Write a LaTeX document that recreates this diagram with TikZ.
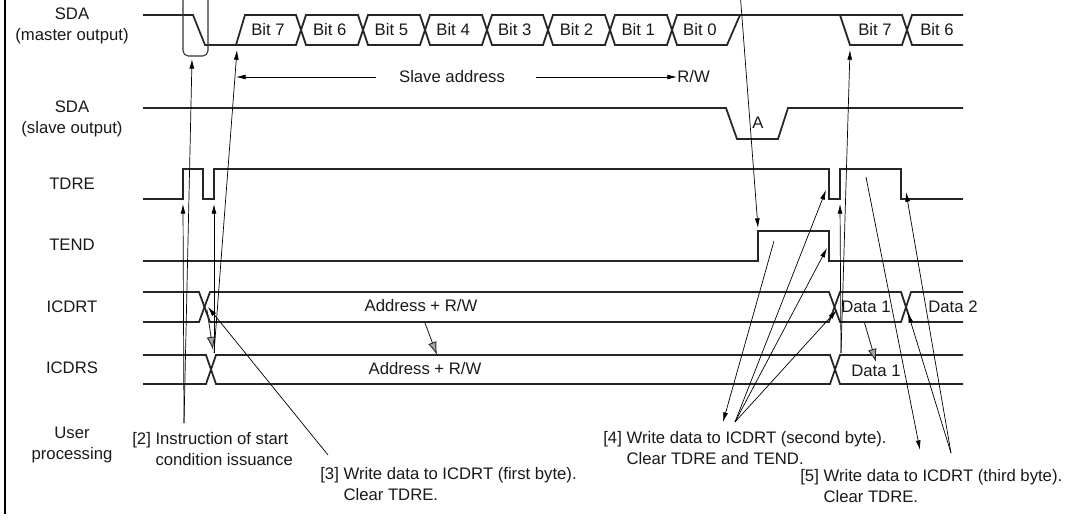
\documentclass[tikz,border=0pt]{standalone}
\usepackage{fontspec}
\setmainfont{Liberation Sans}
\usetikzlibrary{calc,arrows.meta}

\begin{document}
\begin{tikzpicture}[x=0.02cm, y=-0.02cm, font=\fontsize{9.5}{12}\selectfont]
    % styles
    \tikzstyle{wave}=[draw=black!85, line width=1pt, line join=miter]
    \tikzstyle{sig}=[align=center, inner sep=0pt, text=black!90]
    \tikzstyle{cell}=[inner sep=0pt, text=black!90]
    \tikzstyle{note}=[align=left, anchor=north west, inner sep=0pt, text=black!90]
    \tikzstyle{ptr}=[-{Latex[length=5.5pt,width=2.8pt]}, line width=0.4pt]
    \tikzstyle{xfer}=[-{Latex[length=7.5pt,width=5pt,fill=black!35]}, line width=0.5pt, draw=black!85]

    \useasboundingbox (0,0) rectangle (1066,522);

    % frame edge
    \draw[line width=1.6pt] (5,0) -- (5,514);

    % Signal names
    \node[sig] (sdam) at (72,25.5) {SDA\\(master output)};
    \node[sig] (sdas) at (72,119) {SDA\\(slave output)};
    \node[sig] (tdre) at (72,184) {TDRE};
    \node[sig] (tend) at (72,245) {TEND};
    \node[sig] (icdrt) at (72,307) {ICDRT};
    \node[sig] (icdrs) at (72,368) {ICDRS};
    \node[sig] (user) at (72,445) {User\\processing};

    % SDA (master output)
    \draw[wave] (143,15) -- (193,15) -- (205,45) -- (296,45) -- (306,15) -- (358,15) -- (368,45) -- (420,45) -- (430,15) -- (482,15) -- (492,45) -- (543,45) -- (553,15) -- (605,15) -- (615,45) -- (667,45) -- (677,15) -- (840,15) -- (850,45) -- (902,45) -- (912,15) -- (963,15);
    \draw[wave] (236,45) -- (245,15) -- (296,15) -- (306,45) -- (358,45) -- (368,15) -- (420,15) -- (430,45) -- (482,45) -- (492,15) -- (543,15) -- (553,45) -- (605,45) -- (615,15) -- (667,15) -- (677,45) -- (727,45) -- (740,15);
    \draw[wave] (840,15) -- (902,15) -- (912,45) -- (963,45);
    \foreach \b [count=\i from 0] in {7,6,5,4,3,2,1,0}
      \node[cell] (bit\b) at (268+61.7*\i,30) {Bit \b};
    \node[cell] (nbit7) at (875,30) {Bit 7};
    \node[cell] (nbit6) at (937,30) {Bit 6};

    % start condition box
    \draw[black!80, line width=0.6pt, rounded corners=3pt] (183,-6) rectangle (208,56);

    % Slave address span
    \node[cell] (sladr) at (452,77) {Slave address};
    \node[cell, anchor=west] (rw) at (677,77) {R/W};
    \coordinate (bitstart) at (236,77);
    \draw[ptr] ($(sladr.west)+(-23,0)$) -- (bitstart);
    \draw[ptr] ($(sladr.east)+(31,0)$) -- (rw.west);

    % SDA (slave output)
    \draw[wave] (143,108) -- (726,108) -- (737,139) -- (778,139) -- (788,108) -- (963,108);
    \node[cell] (ack) at (758,123) {A};

    % TDRE
    \draw[wave] (143,199) -- (183,199) -- (183,169) -- (203,169) -- (203,199) -- (214,199) -- (214,169) -- (829,169) -- (829,199) -- (840,199) -- (840,169) -- (901,169) -- (901,199) -- (963,199);

    % TEND
    \draw[wave] (143,261) -- (758,261) -- (758,231) -- (829,231) -- (829,261) -- (963,261);

    % ICDRT
    \draw[wave] (143,292) -- (199,292) -- (210,322) -- (829,322) -- (840,292) -- (901,292) -- (911,322) -- (963,322);
    \draw[wave] (143,322) -- (199,322) -- (210,292) -- (829,292) -- (840,322) -- (901,322) -- (911,292) -- (963,292);
    \node[cell] (tadr) at (421,306) {Address + R/W};
    \node[cell] (tdat1) at (866,307) {Data 1};
    \node[cell] (tdat2) at (953,307) {Data 2};

    % ICDRS
    \draw[wave] (143,355) -- (206,355) -- (216,384) -- (830,384) -- (840,355) -- (963,355);
    \draw[wave] (143,384) -- (206,384) -- (216,355) -- (830,355) -- (840,384) -- (963,384);
    \node[cell] (sadr) at (425,369) {Address + R/W};
    \node[cell] (sdat1) at (876,371) {Data 1};

    % User processing notes
    \node[note] (n2) at (132,432) {[2] Instruction of start\\\phantom{[2] }condition issuance};
    \node[note] (n3) at (320,467) {[3] Write data to ICDRT (first byte).\\\phantom{[3] }Clear TDRE.};
    \node[note] (n4) at (603,431) {[4] Write data to ICDRT (second byte).\\\phantom{[4] }Clear TDRE and TEND.};
    \node[note] (n5) at (800,469) {[5] Write data to ICDRT (third byte).\\\phantom{[5] }Clear TDRE.};

    % pointer origins
    \coordinate (p1) at (740.5,-2);
    \coordinate (p2) at (184,423);
    \coordinate (p3) at (328,455);
    \coordinate (p4a) at (723,422);
    \coordinate (p4b) at (735,422);
    \coordinate (p5a) at (920,450);
    \coordinate (p5b) at (951,453);
    \coordinate (ld1) at (214,353);
    \coordinate (ld2) at (841,353);
    \coordinate (tendhi) at (774,241);
    \coordinate (tdrehi) at (866,177);

    % pointer targets
    \coordinate (boxbot) at (192,59);
    \coordinate (tdreup1) at (183,204);
    \coordinate (tdreup2) at (214,204);
    \coordinate (tdreup3) at (840,204);
    \coordinate (tdredn1) at (826,190);
    \coordinate (tdredn2) at (906,192);
    \coordinate (sdaup) at (237,50);
    \coordinate (sdadn) at (850,50);
    \coordinate (tendup) at (758,228);
    \coordinate (tenddn) at (827,248);
    \coordinate (wrt1) at (208,307);
    \coordinate (wrt2) at (837,310);
    \coordinate (wrt3) at (908,313);

    % [2] and [3]
    \draw[ptr] (p2) -- (tdreup1);
    \draw[ptr] (p2) -- (boxbot);
    \draw[ptr] (p3) -- (wrt1);
    \draw[ptr] (ld1) -- (tdreup2);
    \draw[ptr] (ld1) -- (sdaup);

    % end of first byte
    \draw[ptr] (p1) -- (tendup);

    % [4]
    \draw[ptr] (tendhi) -- (p4a);
    \draw[ptr] (p4b) -- (tdredn1);
    \draw[ptr] (p4b) -- (tenddn);
    \draw[ptr] (p4b) -- (wrt2);
    \draw[ptr] (ld2) -- (tdreup3);
    \draw[ptr] (ld2) -- (sdadn);

    % [5]
    \draw[ptr] (tdrehi) -- (p5a);
    \draw[ptr] (p5b) -- (tdredn2);
    \draw[ptr] (p5b) -- (wrt3);

    % ICDRT to ICDRS transfers
    \coordinate (x1a) at (207,310);
    \coordinate (x1b) at (213,350);
    \coordinate (x2a) at (425,323);
    \coordinate (x2b) at (437,355);
    \coordinate (x3a) at (864,321);
    \coordinate (x3b) at (876,362);
    \draw[xfer] (x1a) -- (x1b);
    \draw[xfer] (x2a) -- (x2b);
    \draw[xfer] (x3a) -- (x3b);
\end{tikzpicture}
\end{document}
